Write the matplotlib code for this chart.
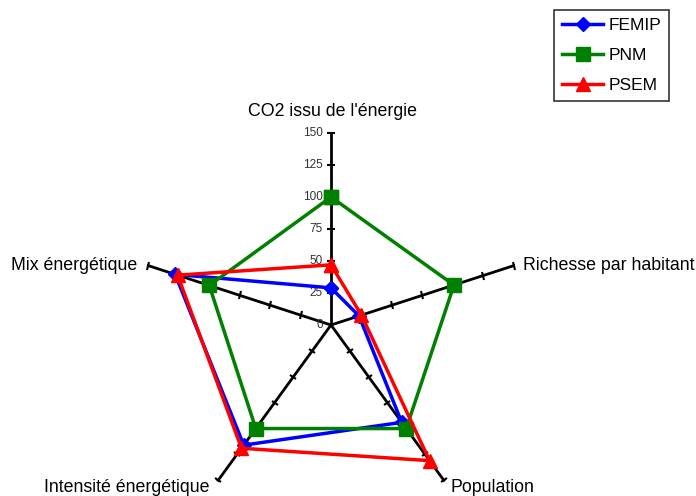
import numpy as np
import matplotlib.pyplot as plt
from matplotlib.markers import MarkerStyle
from matplotlib.transforms import Affine2D

plt.rcParams['font.family'] = ['Liberation Sans', 'DejaVu Sans']

axes_labels = ["CO2 issu de l'énergie", "Richesse par habitant", "Population",
               "Intensité énergétique", "Mix énergétique"]
femip = [29, 23, 94, 116, 128]
pnm = [100, 101, 100, 100, 100]
psem = [47, 25, 131, 119, 126]
ticks = [0, 25, 50, 75, 100, 125, 150]

n = len(axes_labels)
theta = np.arange(n) * 2 * np.pi / n

fig = plt.figure(figsize=(6.96, 4.96), dpi=100)
ax = fig.add_axes([139/696, -21/496, 384/696, 384/496], projection='polar')
ax.set_theta_offset(np.pi / 2)
ax.set_theta_direction(-1)
ax.set_ylim(0, 150)
ax.grid(False)
ax.set_xticks([])
ax.set_yticks([])
ax.spines['polar'].set_visible(False)
ax.patch.set_alpha(0)

# spokes with small tick marks
for t in theta:
    ax.plot([t, t], [0, 150], color='black', lw=2, clip_on=False, zorder=1)
    screen_angle = 90 - np.degrees(t)
    m = MarkerStyle('|', transform=Affine2D().rotate_deg(screen_angle))
    ax.plot([t] * 6, ticks[1:], ls='none', marker=m, ms=6, mew=1.5,
            color='black', clip_on=False, zorder=1)

for v in ticks:
    ax.annotate(str(v), (0, v), xytext=(-6, 0), textcoords='offset points',
                ha='right', va='center', fontsize=8.5, color='#333333')

series = [("FEMIP", femip, 'blue', 'D', 7),
          ("PNM", pnm, 'green', 's', 9.5),
          ("PSEM", psem, 'red', '^', 10)]
for name, vals, col, mk, ms in series:
    th = np.append(theta, theta[0])
    r = vals + vals[:1]
    ax.plot(th, r, color=col, lw=2.5, marker=mk, ms=ms, label=name,
            clip_on=False, zorder=3)

fs = 12.8
fig.text(332/696, 1 - 111/496, axes_labels[0], ha='center', va='center', fontsize=fs)
fig.text(523/696, 1 - 265/496, axes_labels[1], ha='left', va='center', fontsize=fs)
fig.text(450/696, 1 - 488/496, axes_labels[2], ha='left', va='center', fontsize=fs)
fig.text(210/696, 1 - 488/496, axes_labels[3], ha='right', va='center', fontsize=fs)
fig.text(137/696, 1 - 265/496, axes_labels[4], ha='right', va='center', fontsize=fs)

leg = fig.legend(loc='upper left', bbox_to_anchor=(554/696, 1 - 10/496),
                 borderaxespad=0, fontsize=12.5, frameon=True, fancybox=False,
                 edgecolor='black', handlelength=2.4, handletextpad=0.3,
                 borderpad=0.45, labelspacing=0.85)
leg.get_frame().set_linewidth(1.2)

fig.savefig('out.png', dpi=100)
